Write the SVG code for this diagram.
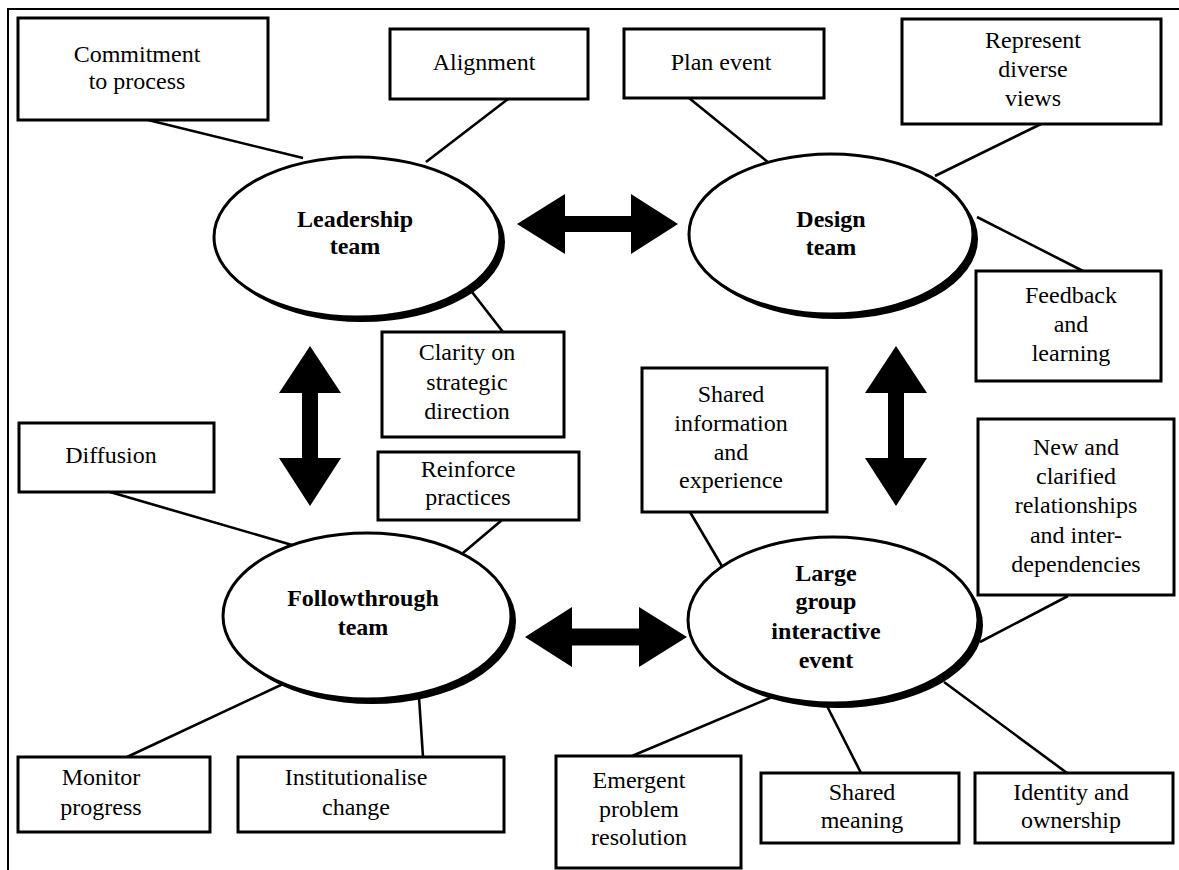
<svg xmlns="http://www.w3.org/2000/svg" width="1179" height="870" viewBox="0 0 1179 870">
<style>
.box{fill:#fff;stroke:#000;stroke-width:3}
.ell{fill:#fff;stroke:#000;stroke-width:3}
.sh{fill:#000}
.ln{stroke:#000;stroke-width:2.6;fill:none}
.arr{fill:#000}
text{font-family:"Liberation Serif","Times New Roman",serif;font-size:24px;fill:#000;text-anchor:middle}
.b{font-weight:bold}
</style>
<rect width="1179" height="870" fill="#fff"/>
<path d="M8 870 V9 H1179" fill="none" stroke="#000" stroke-width="2"/>
<g id="connectors">
<line class="ln" x1="148" y1="120" x2="303" y2="158"/>
<line class="ln" x1="508" y1="99" x2="426" y2="162"/>
<line class="ln" x1="689" y1="98" x2="769" y2="163"/>
<line class="ln" x1="1041" y1="124" x2="935" y2="176"/>
<line class="ln" x1="977" y1="217" x2="1083" y2="271"/>
<line class="ln" x1="472" y1="292" x2="503" y2="332"/>
<line class="ln" x1="110" y1="492" x2="292" y2="545"/>
<line class="ln" x1="502" y1="520" x2="463" y2="553"/>
<line class="ln" x1="690" y1="512" x2="723" y2="568"/>
<line class="ln" x1="1068" y1="596" x2="980" y2="642"/>
<line class="ln" x1="632" y1="756" x2="772" y2="697"/>
<line class="ln" x1="861" y1="773" x2="827" y2="706"/>
<line class="ln" x1="1067" y1="773" x2="944" y2="682"/>
<line class="ln" x1="127" y1="757" x2="283" y2="684"/>
<line class="ln" x1="419" y1="697" x2="423" y2="757"/>
<polygon class="arr" points="517,224 565,194 565,216 631,216 631,194 678,224 631,254 631,232 565,232 565,254"/>
<polygon class="arr" points="525,637 572,607 572,628.5 639,628.5 639,607 687,637 639,667 639,645.5 572,645.5 572,667"/>
<polygon class="arr" points="310,346 341,393 318,393 318,458 341,458 310,506 279,458 302,458 302,393 279,393"/>
<polygon class="arr" points="896,346 927,393 904,393 904,458 927,458 896,506 865,458 888,458 888,393 865,393"/>
</g>
<g id="leadership">
<ellipse class="sh" cx="362" cy="242" rx="143" ry="80"/>
<ellipse class="ell" cx="357" cy="237" rx="143" ry="80"/>
<text class="b" x="355" y="227">Leadership</text>
<text class="b" x="355" y="254">team</text>
</g>
<g id="design">
<ellipse class="sh" cx="836" cy="239" rx="142" ry="80"/>
<ellipse class="ell" cx="831" cy="234" rx="142" ry="80"/>
<text class="b" x="831" y="227">Design</text>
<text class="b" x="831" y="255">team</text>
</g>
<g id="followthrough">
<ellipse class="sh" cx="372" cy="621" rx="144" ry="83"/>
<ellipse class="ell" cx="367" cy="616" rx="144" ry="83"/>
<text class="b" x="363" y="606">Followthrough</text>
<text class="b" x="363" y="635">team</text>
</g>
<g id="large-group">
<ellipse class="sh" cx="838" cy="625" rx="145" ry="83"/>
<ellipse class="ell" cx="833" cy="620" rx="145" ry="83"/>
<text class="b" x="826" y="581">Large</text>
<text class="b" x="826" y="609">group</text>
<text class="b" x="826" y="639">interactive</text>
<text class="b" x="826" y="668">event</text>
</g>
<g id="commitment">
<rect class="box" x="18" y="18" width="250" height="102"/>
<text x="137" y="62">Commitment</text>
<text x="137" y="89">to process</text>
</g>
<g id="alignment">
<rect class="box" x="390" y="29" width="198" height="70"/>
<text x="484" y="70">Alignment</text>
</g>
<g id="plan-event">
<rect class="box" x="624" y="29" width="200" height="69"/>
<text x="721" y="70">Plan event</text>
</g>
<g id="represent">
<rect class="box" x="902" y="19" width="259" height="105"/>
<text x="1033" y="48">Represent</text>
<text x="1033" y="77">diverse</text>
<text x="1033" y="106">views</text>
</g>
<g id="feedback">
<rect class="box" x="976" y="271" width="185" height="110"/>
<text x="1071" y="303">Feedback</text>
<text x="1071" y="332">and</text>
<text x="1071" y="361">learning</text>
</g>
<g id="clarity">
<rect class="box" x="382" y="332" width="182" height="105"/>
<text x="467" y="360">Clarity on</text>
<text x="467" y="390">strategic</text>
<text x="467" y="419">direction</text>
</g>
<g id="reinforce">
<rect class="box" x="378" y="452" width="201" height="68"/>
<text x="468" y="477">Reinforce</text>
<text x="468" y="505">practices</text>
</g>
<g id="diffusion">
<rect class="box" x="19" y="423" width="195" height="69"/>
<text x="111" y="463">Diffusion</text>
</g>
<g id="shared-info">
<rect class="box" x="642" y="368" width="185" height="144"/>
<text x="731" y="402">Shared</text>
<text x="731" y="431">information</text>
<text x="731" y="460">and</text>
<text x="731" y="488">experience</text>
</g>
<g id="new-relationships">
<rect class="box" x="978" y="419" width="196" height="176"/>
<text x="1076" y="455">New and</text>
<text x="1076" y="484">clarified</text>
<text x="1076" y="513">relationships</text>
<text x="1076" y="543">and inter-</text>
<text x="1076" y="572">dependencies</text>
</g>
<g id="monitor">
<rect class="box" x="18" y="757" width="192" height="75"/>
<text x="101" y="785">Monitor</text>
<text x="101" y="815">progress</text>
</g>
<g id="institutionalise">
<rect class="box" x="238" y="757" width="266" height="75"/>
<text x="356" y="785">Institutionalise</text>
<text x="356" y="815">change</text>
</g>
<g id="emergent">
<rect class="box" x="556" y="756" width="185" height="112"/>
<text x="639" y="788">Emergent</text>
<text x="639" y="817">problem</text>
<text x="639" y="845">resolution</text>
</g>
<g id="shared-meaning">
<rect class="box" x="761" y="773" width="198" height="70"/>
<text x="862" y="800">Shared</text>
<text x="862" y="828">meaning</text>
</g>
<g id="identity">
<rect class="box" x="975" y="773" width="198" height="70"/>
<text x="1071" y="800">Identity and</text>
<text x="1071" y="828">ownership</text>
</g>
</svg>
